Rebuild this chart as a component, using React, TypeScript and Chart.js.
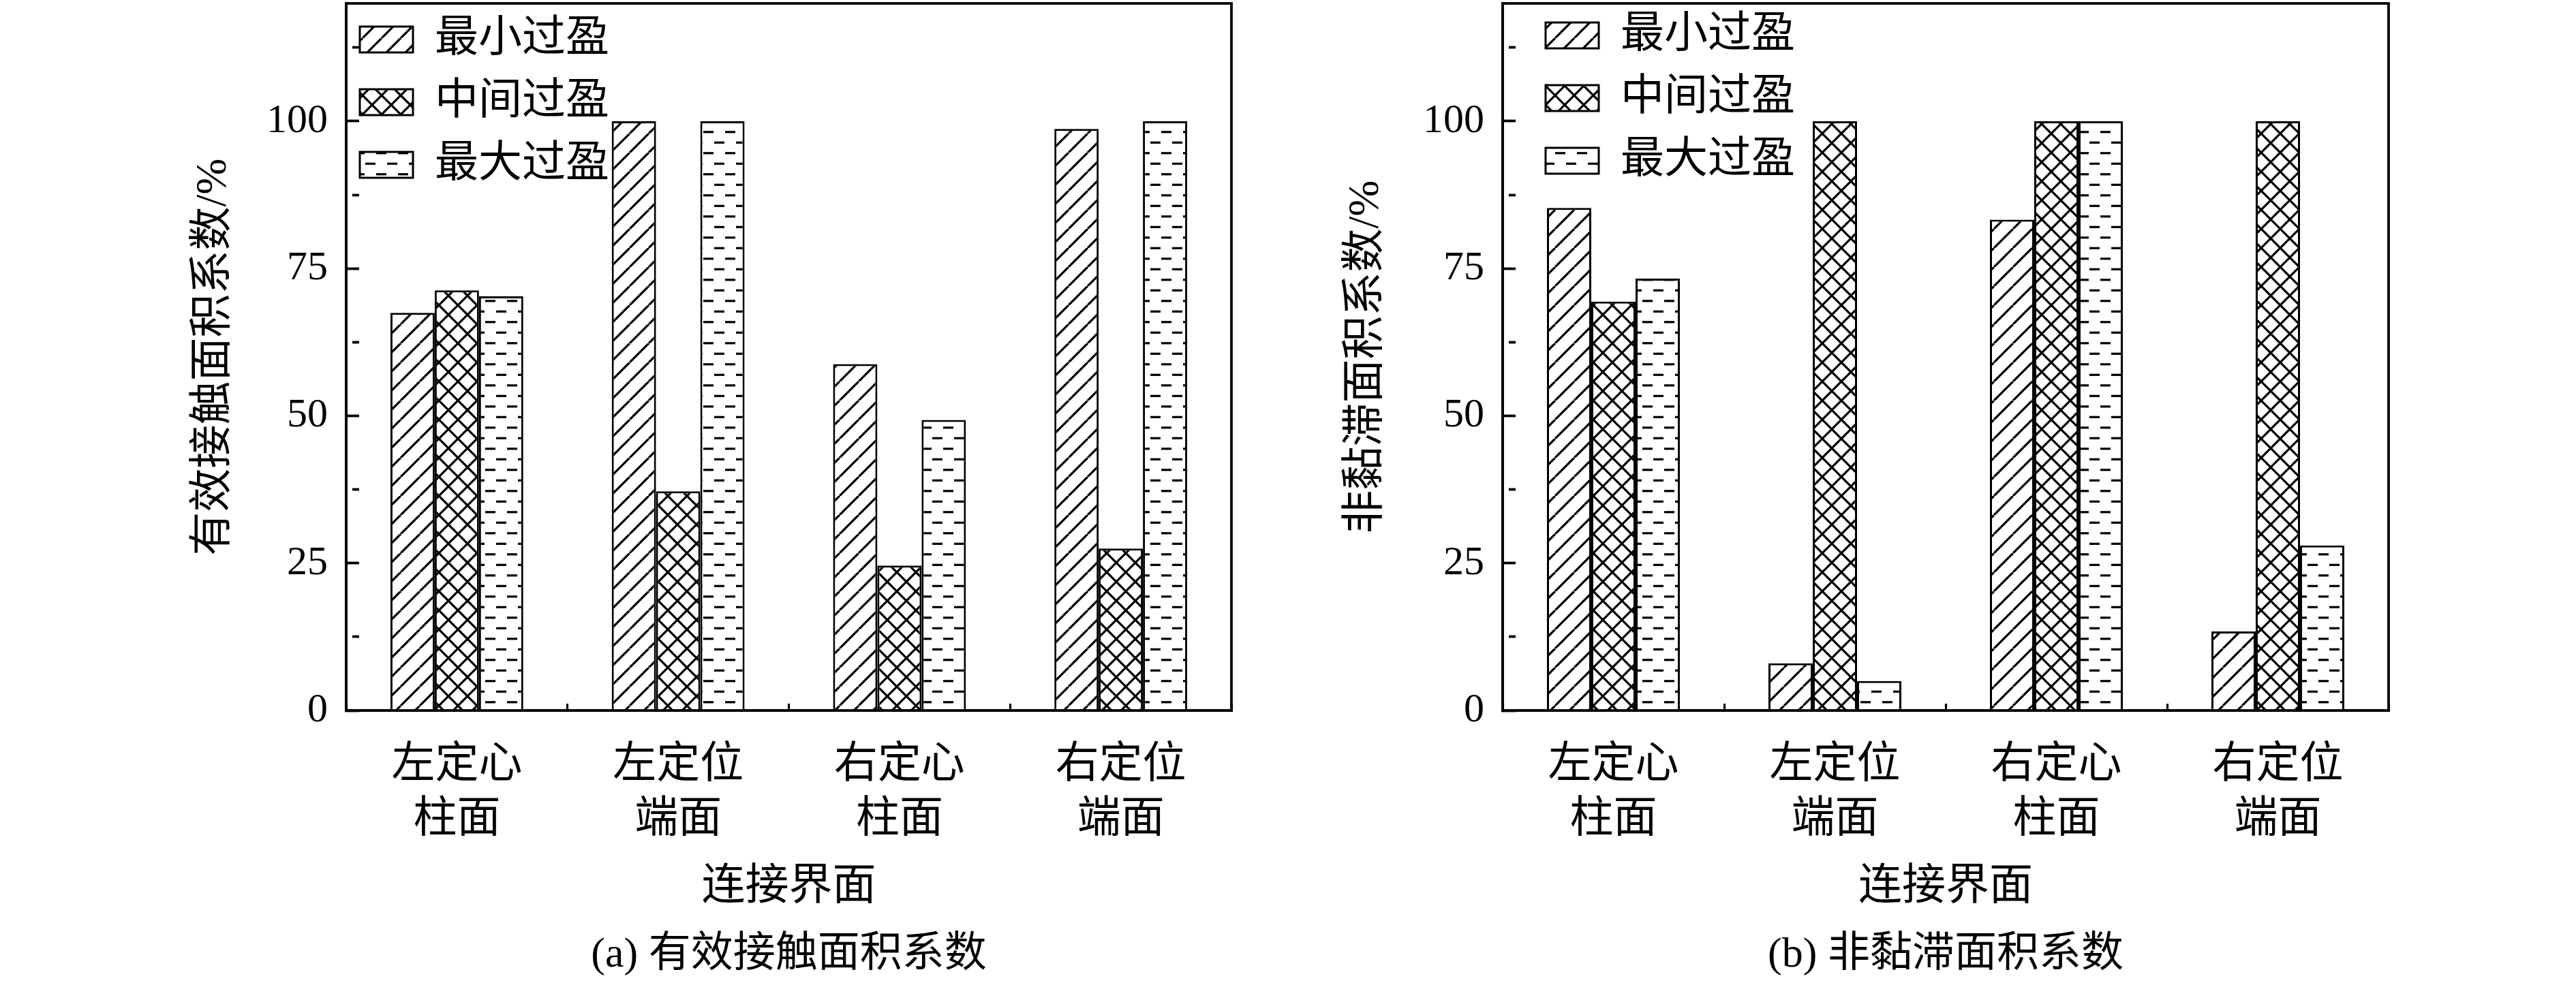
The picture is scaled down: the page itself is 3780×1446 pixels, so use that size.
import React, { useEffect, useRef } from 'react';
import { Chart, registerables } from 'chart.js';

Chart.register(...registerables);

// categories on the x axis (two lines each)
const categories = [
    ['左定心', '柱面'],
    ['左定位', '端面'],
    ['右定心', '柱面'],
    ['右定位', '端面']
];
const seriesNames = ['最小过盈', '中间过盈', '最大过盈'];

// (a) effective contact area coefficient, %
const contactMin = [67.5, 100, 58.8, 98.7];
const contactMid = [71.3, 37.2, 24.6, 27.5];
const contactMax = [70.3, 100, 49.3, 100];

// (b) non-stick area coefficient, %
const nonStickMin = [85.3, 8.0, 83.3, 13.4];
const nonStickMid = [69.4, 100, 100, 100];
const nonStickMax = [73.3, 5.0, 100, 28.0];

// y ticks: labelled every 25, minor marks in between
const yTicks = [0, 12.5, 25, 37.5, 50, 62.5, 75, 87.5, 100, 112.5];
const yLabelled = [0, 25, 50, 75, 100];

const FONT = "'Liberation Serif', 'Noto Sans CJK SC', serif";
const W = 1890;
const H = 1446;

// hatch fills like the printed figure
function makePattern(kind: 'diag' | 'cross' | 'dash'): CanvasPattern {
    const c = document.createElement('canvas');
    const w = kind === 'dash' ? 32 : 28;
    const h = kind === 'dash' ? 31 : 28;
    c.width = w;
    c.height = h;
    const g = c.getContext('2d')!;
    g.fillStyle = '#fff';
    g.fillRect(0, 0, w, h);
    g.fillStyle = '#000';
    g.strokeStyle = '#000';
    g.lineWidth = 3.2;
    if (kind === 'dash') {
        g.fillRect(8, 6.2, 15, 3.2);
        g.fillRect(24, 21.7, 15, 3.2);
        g.fillRect(-8, 21.7, 15, 3.2);
    } else {
        g.beginPath();
        for (const o of [-w, 0, w]) {
            g.moveTo(o, h);
            g.lineTo(o + w, 0);
        }
        if (kind === 'cross') {
            for (const o of [-w, 0, w]) {
                g.moveTo(o, 0);
                g.lineTo(o + w, h);
            }
        }
        g.stroke();
    }
    return g.createPattern(c, 'repeat')!;
}

// box round the plot, drawn over the bars so the axis keeps its width
const framePlugin = {
    id: 'frame',
    afterDatasetsDraw(chart: any) {
        const { ctx, chartArea: a } = chart;
        ctx.save();
        ctx.strokeStyle = '#000';
        ctx.lineWidth = 3.8;
        ctx.strokeRect(a.left, a.top, a.right - a.left, a.bottom - a.top);
        ctx.restore();
    }
};

// nudge the in-plot legend to where the original has it
const legendShiftPlugin = {
    id: 'legendShift',
    afterLayout(chart: any, _args: any, opts: any) {
        const lg = chart.legend;
        if (!lg) return;
        lg.left += opts.dx || 0;
        lg.top += opts.dy || 0;
    }
};

interface PanelProps {
    values: number[][];
    yTitle: string;
    caption: string;
    yWidth: number;
    yTitlePad: number;
    padRight: number;
    legendDx: number;
    legendDy: number;
    left: number;
}

const Panel: React.FC<PanelProps> = (p) => {
    const canvasRef = useRef<HTMLCanvasElement | null>(null);

    useEffect(() => {
        const ctx = canvasRef.current?.getContext('2d');
        if (!ctx) return;

        const fills = [makePattern('diag'), makePattern('cross'), makePattern('dash')];

        const chart = new Chart(ctx, {
            type: 'bar',
            data: {
                labels: categories,
                datasets: seriesNames.map((name, i) => ({
                    label: name,
                    data: p.values[i],
                    backgroundColor: fills[i],
                    borderColor: '#000',
                    borderWidth: 3,
                    categoryPercentage: 0.6,
                    barPercentage: 1.0
                }))
            },
            options: {
                responsive: false,
                animation: false,
                layout: { padding: { left: 0, right: p.padRight, top: 5, bottom: 0 } },
                plugins: {
                    legend: {
                        position: 'chartArea',
                        align: 'start',
                        labels: {
                            boxWidth: 78,
                            boxHeight: 38,
                            padding: 28,
                            color: '#000',
                            font: { family: FONT, size: 64 }
                        }
                    },
                    title: {
                        display: true,
                        position: 'bottom',
                        fullSize: false,
                        text: p.caption,
                        color: '#000',
                        font: { family: FONT, size: 62, weight: 'normal', lineHeight: 1.2 },
                        padding: { top: 0, bottom: 6 }
                    },
                    tooltip: { enabled: false },
                    legendShift: { dx: p.legendDx, dy: p.legendDy }
                } as any,
                scales: {
                    x: {
                        offset: true,
                        grid: {
                            display: true,
                            offset: true,
                            drawOnChartArea: false,
                            drawTicks: true,
                            tickLength: -10,
                            tickWidth: 3.2,
                            tickColor: '#000'
                        },
                        border: { display: true, width: 3.8, color: '#000' },
                        ticks: {
                            color: '#000',
                            font: { family: FONT, size: 64, lineHeight: 1.25 },
                            padding: 51,
                            maxRotation: 0,
                            minRotation: 0,
                            autoSkip: false
                        },
                        title: {
                            display: true,
                            text: '连接界面',
                            color: '#000',
                            font: { family: FONT, size: 64, lineHeight: 1.2 },
                            padding: { top: 0, bottom: 24 }
                        },
                        afterFit: (s: any) => {
                            s.height = H - 80.4 - 1043;
                            s.paddingLeft = 0;
                            s.paddingRight = 0;
                        }
                    },
                    y: {
                        min: 0,
                        max: 120,
                        afterBuildTicks: (s: any) => {
                            s.ticks = yTicks.map(v => ({ value: v }));
                        },
                        grid: {
                            display: true,
                            drawOnChartArea: false,
                            drawTicks: true,
                            tickLength: -19,
                            tickWidth: 3.8,
                            tickColor: '#000',
                            tickBorderDash: (c: any) =>
                                c.tick && yLabelled.includes(c.tick.value) ? [] : [10, 100]
                        },
                        border: { display: true, width: 3.8, color: '#000' },
                        ticks: {
                            color: '#000',
                            font: { family: FONT, size: 60 },
                            padding: 46,
                            autoSkip: false,
                            callback: (v: any) => (yLabelled.includes(Number(v)) ? String(v) : '')
                        },
                        title: {
                            display: true,
                            text: p.yTitle,
                            color: '#000',
                            font: { family: FONT, size: 64, lineHeight: 1.2 },
                            padding: { top: p.yTitlePad, bottom: 0 }
                        },
                        afterFit: (s: any) => {
                            s.width = p.yWidth;
                            s.paddingTop = 0;
                            s.paddingBottom = 0;
                        }
                    }
                }
            } as any,
            plugins: [framePlugin, legendShiftPlugin]
        });

        return () => chart.destroy();
    }, [p]);

    return (
        <canvas
            ref={canvasRef}
            width={W}
            height={H}
            style={{ position: 'absolute', left: p.left, top: 0, width: W, height: H }}
        />
    );
};

const panelA: PanelProps = {
    values: [contactMin, contactMid, contactMax],
    yTitle: '有效接触面积系数/%',
    caption: '(a) 有效接触面积系数',
    yWidth: 508,
    yTitlePad: 276,
    padRight: 83,
    legendDx: -8,
    legendDy: -2,
    left: 0
};

const panelB: PanelProps = {
    values: [nonStickMin, nonStickMid, nonStickMax],
    yTitle: '非黏滞面积系数/%',
    caption: '(b) 非黏滞面积系数',
    yWidth: 315,
    yTitlePad: 77,
    padRight: 275,
    legendDx: 35,
    legendDy: -8,
    left: W
};

const App: React.FC = () => {
    return (
        <div style={{ position: 'absolute', left: 0, top: 0, width: 3780, height: 1446, background: '#fff' }}>
            <Panel {...panelA} />
            <Panel {...panelB} />
        </div>
    );
};

export default App;
